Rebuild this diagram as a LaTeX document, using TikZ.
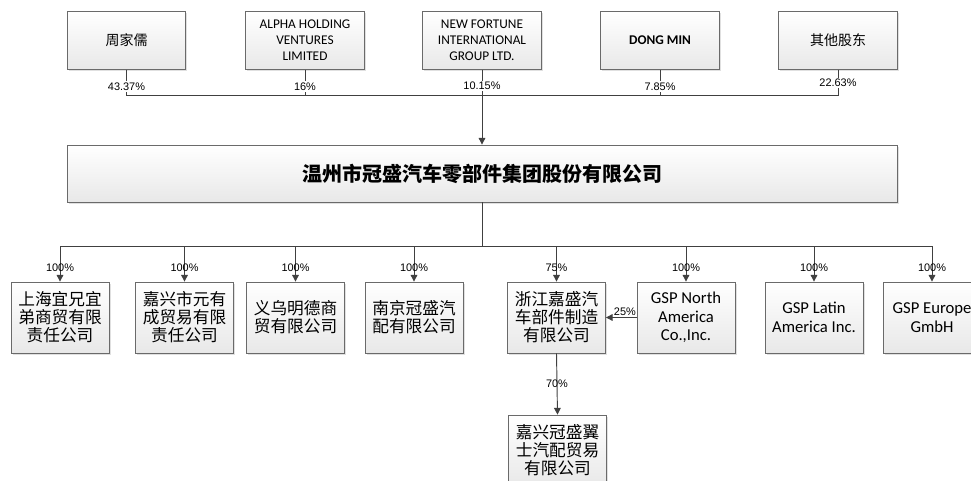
\documentclass[tikz,border=0pt]{standalone}
\usepackage{fontspec}
\setmainfont{Carlito}
\newfontfamily\cjk{Noto Sans CJK SC}
\newfontfamily\pctfont{Liberation Sans}
\usetikzlibrary{arrows.meta, positioning, shadows}
\definecolor{linegray}{HTML}{404040}
\definecolor{boxline}{HTML}{6A6A6A}

\begin{document}
\begin{tikzpicture}[
  x=0.75pt, y=-0.75pt,
  box/.style={
    rectangle, draw=boxline, line width=0.6pt,
    top color=white, bottom color=gray!18,
    drop shadow={shadow xshift=1.2pt, shadow yshift=-1.2pt, fill=gray!40, opacity=0.6},
    align=center, inner sep=2pt
  },
  holder/.style={box, minimum width=89pt, minimum height=43pt,
    font=\fontsize{10}{12}\selectfont},
  cnholder/.style={holder, font=\cjk\fontsize{10.5}{12}\selectfont},
  subsid/.style={box, minimum width=73.5pt, minimum height=53.25pt,
    font=\fontsize{12.5}{14}\selectfont},
  cnsubsid/.style={subsid, font=\cjk\fontsize{12.5}{13.5}\selectfont},
  groupbox/.style={box, minimum width=622.5pt, minimum height=42.75pt,
    font=\cjk\bfseries\fontsize{15}{18}\selectfont},
  link/.style={draw=linegray, line width=0.7pt},
  arrow/.style={link, -{Triangle[length=5pt, width=5pt]}},
  pct/.style={font=\pctfont\fontsize{8.2}{9}\selectfont, inner sep=1pt},
]
\path[use as bounding box] (0,0) rectangle (971,481);
\clip (0,0) rectangle (971,481);

% ---- Shareholders (top row) ----
\node[cnholder] (zhou) at (126.5,40.5) {周家儒};
\node[holder] (alpha) at (305,40.5) {ALPHA HOLDING\\VENTURES\\LIMITED};
\node[holder] (fortune) at (482,40.5) {NEW FORTUNE\\INTERNATIONAL\\GROUP LTD.};
\node[holder] (dongmin) at (660,40.5) {\bfseries DONG MIN};
\node[cnholder] (others) at (838,40.5) {其他股东};

% ---- Group company ----
\node[groupbox] (gsp) at (482,173.5) {温州市冠盛汽车零部件集团股份有限公司};

\coordinate (bus) at (482,95);
\coordinate (hub) at (482,246);

% Shareholding lines
\draw[link] (zhou.south) |- node[pct, fill=white, pos=0.33]{43.37\%} (bus);
\draw[link] (alpha.south) |- node[pct, fill=white, pos=0.33]{16\%} (bus);
\draw[link] (fortune.south) -- node[pct, fill=white, pos=0.65]{10.15\%} (bus);
\draw[link] (dongmin.south) |- node[pct, fill=white, pos=0.33]{7.85\%} (bus);
\draw[link] (others.south) |- node[pct, fill=white, pos=0.26]{22.63\%} (bus);
\draw[arrow] (bus) -- (gsp.north);
\draw[link] (gsp.south) -- (hub);

% ---- Subsidiaries ----
\node[cnsubsid] (shanghai) at (60,317.5) {上海宜兄宜\\弟商贸有限\\责任公司};
\node[cnsubsid] (jiaxing) at (184.5,317.5) {嘉兴市元有\\成贸易有限\\责任公司};
\node[cnsubsid] (yiwu) at (295.5,317.5) {义乌明德商\\贸有限公司};
\node[cnsubsid] (nanjing) at (414,317.5) {南京冠盛汽\\配有限公司};
\node[cnsubsid] (zhejiang) at (556.5,317.5) {浙江嘉盛汽\\车部件制造\\有限公司};
\node[subsid] (gspna) at (686,317.5) {GSP North\\America\\Co.,Inc.};
\node[subsid] (gspla) at (814,317.5) {GSP Latin\\America Inc.};
\node[subsid] (gspeu) at (932,317.5) {GSP Europe\\GmbH};
\node[cnsubsid] (yishi) at (557.5,450.5) {嘉兴冠盛翼\\士汽配贸易\\有限公司};

% Arrows to subsidiaries
\draw[arrow] (hub) -| node[pct, pos=0.8]{100\%} (shanghai.north);
\draw[arrow] (hub) -| node[pct, pos=0.8]{100\%} (jiaxing.north);
\draw[arrow] (hub) -| node[pct, pos=0.8]{100\%} (yiwu.north);
\draw[arrow] (hub) -| node[pct, pos=0.8]{100\%} (nanjing.north);
\draw[arrow] (hub) -| node[pct, pos=0.8]{75\%} (zhejiang.north);
\draw[arrow] (hub) -| node[pct, pos=0.8]{100\%} (gspna.north);
\draw[arrow] (hub) -| node[pct, pos=0.8]{100\%} (gspla.north);
\draw[arrow] (hub) -| node[pct, pos=0.8]{100\%} (gspeu.north);

% Cross holdings
\draw[arrow] (gspna.west) -- node[pct, above, pos=0.38]{25\%} (zhejiang.east);
\draw[arrow] (zhejiang.south) -- node[pct]{70\%} (yishi.north);

\end{tikzpicture}
\end{document}
